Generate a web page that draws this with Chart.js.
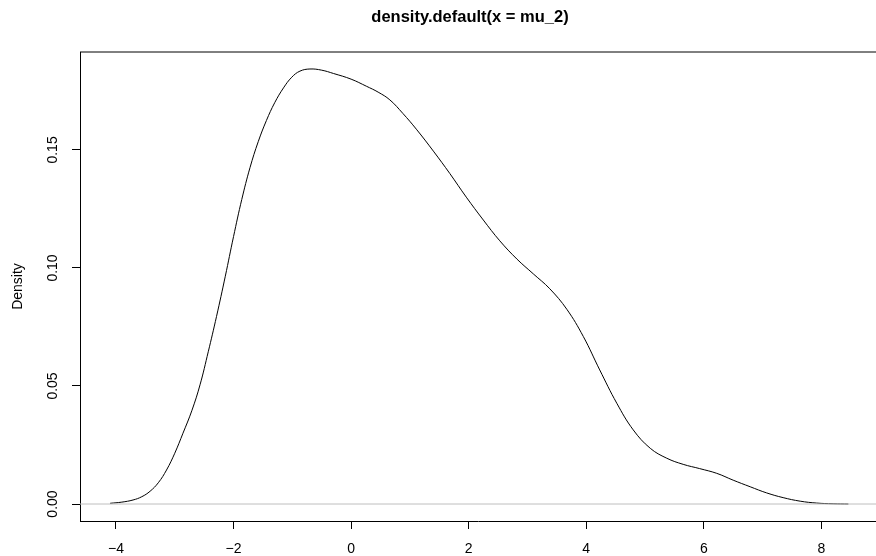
<!DOCTYPE html>
<html>
<head>
<meta charset="utf-8">
<script src="https://cdn.jsdelivr.net/npm/chart.js@4.4.1/dist/chart.umd.min.js"></script>
<style>
  html, body { margin: 0; padding: 0; background: #fff; overflow: hidden; }
  #densityChart { display: block; }
</style>
</head>
<body>
<canvas id="densityChart" width="876" height="556"></canvas>
<script>
// density estimate
var densX = [-4.10, -3.90, -3.71, -3.56, -3.42, -3.28, -3.14, -3.00, -2.86, -2.71, -2.57, -2.43, -2.29, -2.14, -2.00, -1.86, -1.72, -1.58, -1.44, -1.30, -1.15, -1.01, -0.87, -0.70, -0.50, -0.30, 0.00, 0.26, 0.46, 0.66, 0.88, 1.11, 1.40, 1.68, 1.96, 2.25, 2.53, 2.82, 3.10, 3.38, 3.67, 3.95, 4.23, 4.52, 4.80, 5.09, 5.37, 5.65, 5.93, 6.22, 6.50, 6.79, 7.07, 7.35, 7.64, 7.92, 8.20, 8.46];
var densY = [0.0003, 0.0008, 0.0017, 0.0031, 0.0054, 0.0090, 0.0144, 0.0215, 0.0300, 0.0395, 0.0505, 0.0645, 0.0794, 0.0965, 0.1133, 0.1290, 0.1425, 0.1535, 0.1625, 0.1700, 0.1763, 0.1808, 0.1834, 0.1843, 0.1838, 0.1824, 0.1800, 0.1770, 0.1745, 0.1712, 0.1655, 0.1588, 0.1495, 0.1400, 0.1300, 0.1203, 0.1115, 0.1038, 0.0975, 0.0912, 0.0825, 0.0710, 0.0568, 0.0427, 0.0314, 0.0236, 0.0194, 0.0168, 0.0150, 0.0130, 0.0101, 0.0073, 0.0047, 0.0027, 0.0012, 0.0004, 0.0001, 0.0000];

var xTicks = [-4, -2, 0, 2, 4, 6, 8];
var yTicks = [0, 0.05, 0.10, 0.15];
var yTickLabels = ['0.00', '0.05', '0.10', '0.15'];

var xRange = [-4.612, 8.93];
var yRange = [-0.0072, 0.1915];

var titleText = 'density.default(x = mu_2)';
var yAxisTitle = 'Density';

var FONT = '"Liberation Sans", Arial, Helvetica, sans-serif';

// 데이터 포인트 만들기
var points = densX.map(function (x, i) { return { x: x, y: densY[i] }; });
var zeroLine = [{ x: xRange[0], y: 0 }, { x: xRange[1], y: 0 }];

// 제목, y축 라벨, 상단 테두리 그리기
var rStylePlugin = {
    id: 'rStyle',
    afterDraw: function (chart) {
        var ctx = chart.ctx;
        var area = chart.chartArea;
        var yScale = chart.scales.y;

        ctx.save();
        // top border of the box
        ctx.strokeStyle = '#000';
        ctx.lineWidth = 1;
        ctx.beginPath();
        ctx.moveTo(area.left, 52);
        ctx.lineTo(area.right, 52);
        ctx.stroke();

        // title
        ctx.fillStyle = '#000';
        ctx.font = 'bold 16.5px ' + FONT;
        ctx.textAlign = 'center';
        ctx.textBaseline = 'middle';
        ctx.fillText(titleText, 470, 17);

        // y tick labels, rotated like R
        ctx.font = '14px ' + FONT;
        yTicks.forEach(function (v, i) {
            var py = yScale.getPixelForValue(v);
            ctx.save();
            ctx.translate(53, py);
            ctx.rotate(-Math.PI / 2);
            ctx.fillText(yTickLabels[i], 0, 0);
            ctx.restore();
        });

        // y axis title
        ctx.translate(18, (area.top + area.bottom) / 2);
        ctx.rotate(-Math.PI / 2);
        ctx.fillText(yAxisTitle, 0, 0);
        ctx.restore();
    }
};

var ctx = document.getElementById('densityChart').getContext('2d');
var densityChart = new Chart(ctx, {
    type: 'line',
    data: {
        datasets: [
            {
                data: zeroLine,
                borderColor: '#bebebe',
                borderWidth: 1,
                pointRadius: 0,
                fill: false
            },
            {
                data: points,
                borderColor: '#000',
                borderWidth: 1,
                pointRadius: 0,
                fill: false,
                tension: 0.4
            }
        ]
    },
    options: {
        responsive: false,
        animation: false,
        events: [],
        layout: { padding: { top: 52, left: 0, right: 0, bottom: 0 } },
        plugins: {
            legend: { display: false },
            tooltip: { enabled: false },
            title: { display: false }
        },
        scales: {
            x: {
                type: 'linear',
                min: xRange[0],
                max: xRange[1],
                afterBuildTicks: function (scale) {
                    scale.ticks = xTicks.map(function (v) { return { value: v }; });
                },
                afterFit: function (scale) { scale.height = 35; },
                grid: {
                    drawOnChartArea: false,
                    drawTicks: true,
                    tickLength: 8,
                    color: '#000',
                    lineWidth: 1
                },
                border: { display: true, color: '#000', width: 1 },
                ticks: {
                    color: '#000',
                    padding: 12,
                    maxRotation: 0,
                    autoSkip: false,
                    font: { family: FONT, size: 14 },
                    callback: function (v) { return String(v).replace('-', '\u2212'); }
                }
            },
            y: {
                type: 'linear',
                min: yRange[0],
                max: yRange[1],
                afterBuildTicks: function (scale) {
                    scale.ticks = yTicks.map(function (v) { return { value: v }; });
                },
                afterFit: function (scale) { scale.width = 80; },
                grid: {
                    drawOnChartArea: false,
                    drawTicks: true,
                    tickLength: 8,
                    color: '#000',
                    lineWidth: 1
                },
                border: { display: true, color: '#000', width: 1 },
                ticks: { display: false }
            }
        }
    },
    plugins: [rStylePlugin]
});
</script>
</body>
</html>
